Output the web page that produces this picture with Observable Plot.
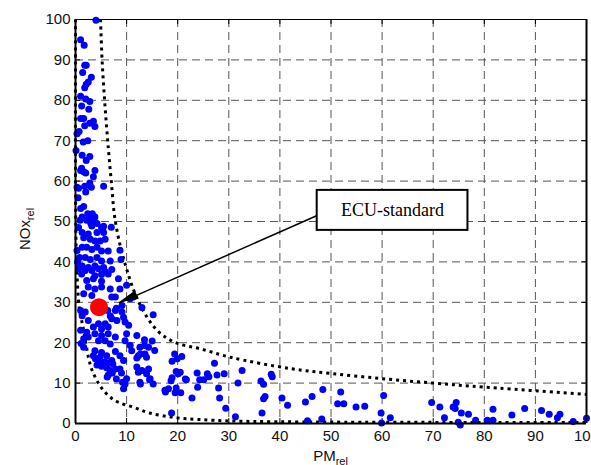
<!DOCTYPE html>
<html>
<head>
<meta charset="utf-8">
<script src="https://cdn.jsdelivr.net/npm/d3@7"></script>
<script src="https://cdn.jsdelivr.net/npm/@observablehq/plot@0.6"></script>
<style>
  html, body { margin: 0; padding: 0; background: #fff; overflow: hidden; }
</style>
</head>
<body>
<div id="chart"></div>
<script>
// Relative particulate (PM) and NOx of each engine calibration sample
const pm = [
  4.0, 1.0, 1.7, 1.8, 2.1, 1.4, 3.1, 2.5, 2.1, 1.8, 1.0, 2.0, 2.8, 1.2, 2.6, 1.0, 1.6, 3.5, 2.8, 1.8,
  3.8, 0.7, 0.3, 1.5, 2.4, 0.1, 1.3, 2.8, 2.1, 1.2, 1.0, 1.6, 2.0, 3.8, 3.5, 2.8, 1.8, 0.3, 0.6, 3.1,
  2.0, 5.5, 0.5, 1.6, 1.0, 2.4, 3.3, 2.8, 3.8, 3.6, 2.2, 1.3, 4.2, 3.0, 0.9, 5.5, 7.0, 5.3,
  3.2, 5.1, 5.5, 4.2, 2.5, 1.3, 0.6, 1.6, 2.9, 3.8, 4.8, 5.8, 0.3, 1.3, 2.2, 3.2, 4.2, 5.1, 6.4, 8.7,
  0.8, 1.9, 2.9, 4.2, 5.1, 6.8, 8.9, 0.4, 1.3, 2.5, 3.8, 5.5, 7.1,
  0.6, 1.9, 3.2, 4.5, 5.8, 6.4, 1.2, 3.8, 5.1, 2.2, 3.5, 5.1, 8.4, 2.5, 3.8, 5.1, 6.8, 8.7, 10.0, 1.6,
  3.2, 7.1, 7.8, 10.7, 11.3, 9.1, 1.0, 1.3, 1.9, 2.5, 9.1, 9.4, 9.7, 7.1, 4.5, 5.8, 3.5, 5.1, 6.4, 10.4,
  2.2, 3.8, 5.1, 6.4, 7.8, 10.0, 12.0, 1.0, 1.6, 2.5, 4.5, 5.8, 6.8, 9.7, 10.7, 1.1, 1.6, 3.8, 5.1, 7.8,
  11.0, 12.6, 14.3, 3.5, 4.8, 6.1, 7.1, 8.7, 9.4, 12.3, 13.6, 4.8, 5.8, 3.9, 6.3, 6.8, 8.0, 7.8, 8.1,
  6.4, 5.5, 7.3, 5.1, 6.1, 6.8, 6.4, 7.8, 8.7, 9.4, 9.7, 10.0, 9.2, 12.0, 12.0, 12.3, 14.3, 13.9, 14.6, 15.2,
  12.6, 17.5, 18.2, 6.2, 7.2, 8.0, 9.0, 4.2,
  13.0, 15.2, 13.5, 15.0, 13.5, 15.5, 12.7, 13.9, 13.0, 14.5, 12.7, 19.4, 19.9, 18.9, 20.8, 19.7, 20.5, 20.1, 18.9, 18.7,
  17.6, 19.7, 19.5, 20.6, 21.5, 21.7, 22.8, 23.8, 24.3, 23.9, 25.1, 25.8, 26.1, 27.2, 27.7, 29.1, 28.0, 28.2, 29.4, 18.8,
  31.3, 32.6, 31.8, 36.3, 36.8, 37.1, 36.8, 36.5, 38.3, 38.5, 40.4, 41.5,
  45.0, 46.3, 48.4, 45.4, 48.2, 51.3, 52.5, 51.9, 54.9, 56.6, 60.3, 59.8, 61.6, 59.9,
  69.7, 71.3, 72.2, 73.9, 74.3, 74.5, 74.9, 75.3, 75.5, 76.9, 78.3, 80.6, 81.7, 81.7, 85.4, 87.9, 91.2, 92.7, 94.3, 94.8,
  97.4, 100.0
];
const nox = [
  99.8, 95.0, 93.6, 88.7, 88.7, 86.9, 85.7, 84.5, 84.0, 83.1, 81.0, 80.3, 79.7, 78.6, 77.8, 75.5, 75.5, 74.8, 74.3, 73.7,
  73.5, 72.3, 71.7, 69.7, 70.0, 67.6, 66.4, 66.1, 65.1, 63.2, 62.6, 62.3, 62.0, 62.6, 61.1, 59.5, 58.7, 58.5, 58.2, 58.5,
  57.3, 58.7, 55.9, 53.7, 53.2, 51.9, 51.9, 51.1, 51.1, 50.3, 50.3, 51.1, 49.5, 49.5, 50.3, 48.8, 48.6, 48.0,
  48.9, 48.5, 47.3, 47.3, 46.9, 47.3, 48.5, 46.0, 45.6, 45.2, 45.2, 45.6, 42.8, 43.6, 43.6, 43.1, 43.6, 42.7, 42.7, 42.9,
  41.1, 41.1, 40.6, 41.1, 40.2, 40.2, 40.6, 40.0, 39.0, 38.6, 39.0, 38.6, 38.1,
  38.3, 37.9, 37.9, 38.3, 37.6, 37.0, 37.0, 36.6, 36.9, 35.4, 35.8, 35.2, 35.8, 33.8, 33.3, 33.8, 33.3, 33.3, 34.2, 32.1,
  31.7, 31.3, 31.3, 30.9, 31.3, 29.2, 28.0, 26.7, 27.6, 25.5, 27.6, 26.3, 25.1, 25.9, 24.7, 24.7, 23.9, 23.4, 23.9, 24.3,
  22.6, 22.2, 21.8, 22.2, 21.4, 22.2, 21.8, 23.1, 21.0, 21.4, 20.5, 20.5, 19.7, 20.5, 19.3, 19.8, 18.9, 18.0, 17.6, 17.8,
  18.0, 18.9, 18.9, 16.8, 16.4, 16.8, 15.6, 16.8, 15.6, 16.8, 17.2, 15.2, 15.2, 16.0, 28.0, 26.6, 28.5, 28.0, 25.5,
  15.0, 14.6, 14.8, 14.2, 13.8, 13.1, 12.0, 13.5, 13.5, 8.6, 9.8, 11.1, 10.2, 16.2, 14.0, 12.7, 13.5, 12.3, 11.1, 9.8,
  10.2, 8.2, 8.6, 11.5, 12.5, 11.0, 12.5, 14.5,
  28.7, 26.9, 20.7, 20.4, 19.3, 18.1, 17.2, 16.4, 13.1, 10.8, 9.8, 17.2, 16.0, 15.4, 16.6, 12.9, 12.7, 12.3, 11.3, 10.6,
  7.8, 8.8, 7.6, 7.6, 11.0, 10.8, 6.3, 12.5, 10.8, 9.0, 10.8, 12.3, 11.6, 14.9, 12.0, 12.3, 8.8, 6.3, 3.8, 2.6,
  1.7, 13.1, 10.0, 10.5, 9.7, 6.7, 6.1, 2.6, 12.2, 11.6, 6.3, 4.5,
  5.3, 6.7, 8.4, 0.7, 1.1, 4.9, 4.9, 7.8, 4.1, 4.3, 6.9, 2.6, 1.4, 0.1,
  5.2, 4.1, 1.4, 4.1, 3.7, 5.2, 0.3, -0.4, 2.6, 2.3, 0.8, 0.8, 0.8, 3.5, 2.1, 3.7, 3.2, 2.3, 1.4, 2.3,
  0.5, 1.3
];

// ECU standard calibration
const ecuPM = [4.6];
const ecuNOx = [28.8];

// Lower and upper boundary of the sample cloud
const innerPM  = [0.0, 0.0, 0.1, 0.2, 0.5, 0.8, 1.2, 1.6, 2.6, 3.3, 4.2, 5.3, 6.8, 8.5, 11.4, 14.5, 19.2, 24.0, 31.0, 50.0, 100.0];
const innerNOx = [100, 60, 45, 40, 32, 28, 25.5, 23, 16, 13, 10.6, 8.5, 6.5, 5.2, 4.0, 2.6, 1.5, 1.0, 0.6, 0.35, 0.25];
const outerPM  = [4.9, 5.2, 5.7, 6.3, 7.0, 7.8, 9.6, 12.4, 16.0, 19.6, 24.4, 30.3, 42.0, 50.0, 60.0, 70.0, 80.0, 100.0];
const outerNOx = [100, 90, 80, 70, 60, 50, 40, 30, 23, 20, 18.5, 16.4, 13.6, 12.4, 11.1, 10.0, 9.0, 7.2];

// Axis ticks
const xTicks = [0, 10, 20, 30, 40, 50, 60, 70, 80, 90, 100];
const yTicks = [0, 10, 20, 30, 40, 50, 60, 70, 80, 90, 100];
const gridTicks = [10, 20, 30, 40, 50, 60, 70, 80, 90];

// Annotation: label box and arrow
const noteText = ["ECU-standard"];
const noteBoxPM = [47.3, 76.8];
const noteBoxNOx = [47.8, 57.7];
const arrowFrom = [47.3, 51.5];
const arrowTo = [8.5, 29.8];

const width = 591, height = 465;
const mL = 75, mR = 5, mT = 19, mB = 42;
const frameW = width - mL - mR, frameH = height - mT - mB;
const tick = 5;

const boundary = {curve: "catmull-rom", stroke: "black", strokeWidth: 3, strokeDasharray: "3,4", strokeLinecap: "butt"};

const plot = Plot.plot({
  width, height,
  marginLeft: mL, marginRight: mR, marginTop: mT, marginBottom: mB,
  x: {domain: [0, 100]},
  y: {domain: [0, 100]},
  style: {
    fontFamily: "'Liberation Sans', Arial, sans-serif",
    fontSize: "15px",
    color: "#111",
    background: "#fff",
    overflow: "hidden"
  },
  marks: [
    Plot.gridX(gridTicks, {stroke: "#555", strokeOpacity: 1, strokeDasharray: "8,5"}),
    Plot.gridY(gridTicks, {stroke: "#555", strokeOpacity: 1, strokeDasharray: "8,5"}),
    // inward tick marks on all four sides
    Plot.tickX(xTicks, {x: d => d, insetTop: frameH - tick, stroke: "black"}),
    Plot.tickX(xTicks, {x: d => d, insetBottom: frameH - tick, stroke: "black"}),
    Plot.tickY(yTicks, {y: d => d, insetRight: frameW - tick, stroke: "black"}),
    Plot.tickY(yTicks, {y: d => d, insetLeft: frameW - tick, stroke: "black"}),
    Plot.axisX(xTicks, {tickSize: 0, tickPadding: 7, label: null, fontSize: 15}),
    Plot.axisY(yTicks, {tickSize: 0, tickPadding: 5, label: null, fontSize: 15}),
    // boundary curves
    Plot.line(innerPM, {x: innerPM, y: innerNOx, ...boundary}),
    Plot.line(outerPM, {x: outerPM, y: outerNOx, ...boundary}),
    // samples
    Plot.dot(pm, {x: pm, y: nox, r: 3.5, fill: "#0000ff", stroke: null}),
    Plot.dot(ecuPM, {x: ecuPM, y: ecuNOx, r: 9, fill: "#ff0000", stroke: null}),
    // frame
    Plot.ruleY([100], {stroke: "black", strokeWidth: 1.2}),
    Plot.ruleX([0, 100], {stroke: "black", strokeWidth: 2}),
    Plot.ruleY([0], {stroke: "black", strokeWidth: 2}),
    // annotation
    Plot.link([0], {x1: () => arrowFrom[0], y1: () => arrowFrom[1], x2: () => arrowTo[0], y2: () => arrowTo[1], stroke: "black", strokeWidth: 1.5}),
    Plot.rect([0], {x1: () => noteBoxPM[0], x2: () => noteBoxPM[1], y1: () => noteBoxNOx[0], y2: () => noteBoxNOx[1], fill: "white", stroke: "black", strokeWidth: 2}),
    Plot.text(noteText, {
      x: () => (noteBoxPM[0] + noteBoxPM[1]) / 2,
      y: () => (noteBoxNOx[0] + noteBoxNOx[1]) / 2,
      text: d => d,
      fontFamily: "'Liberation Serif', 'Times New Roman', serif",
      fontSize: 18,
      fill: "black"
    })
  ]
});

document.getElementById("chart").appendChild(plot);

// filled arrowhead at the arrow's tip, placed through the plot's scales
const sx = plot.scale("x"), sy = plot.scale("y");
const tx = sx.apply(arrowTo[0]), ty = sy.apply(arrowTo[1]);
const fx = sx.apply(arrowFrom[0]), fy = sy.apply(arrowFrom[1]);
const len = Math.hypot(fx - tx, fy - ty);
const ux = (fx - tx) / len, uy = (fy - ty) / len;
const headL = 20, headW = 4.5;
const bx = tx + ux * headL, by = ty + uy * headL;
const svg = d3.select(plot);
svg.append("polygon")
  .attr("points", [[tx, ty], [bx - uy * headW, by + ux * headW], [bx + uy * headW, by - ux * headW]].map(p => p.join(",")).join(" "))
  .attr("fill", "black");

// axis titles with subscripts
const xt = svg.append("text")
  .attr("x", mL + frameW / 2)
  .attr("y", 461)
  .attr("text-anchor", "middle")
  .attr("fill", "#111")
  .style("font-family", "'Liberation Sans', Arial, sans-serif")
  .style("font-size", "15px");
xt.append("tspan").text("PM");
xt.append("tspan").attr("dy", 4).style("font-size", "11px").text("rel");

const yt = svg.append("text")
  .attr("transform", `translate(30,${mT + frameH / 2 + 8}) rotate(-90)`)
  .attr("text-anchor", "middle")
  .attr("fill", "#111")
  .style("font-family", "'Liberation Sans', Arial, sans-serif")
  .style("font-size", "15px");
yt.append("tspan").text("NOx");
yt.append("tspan").attr("dy", 4).style("font-size", "11px").text("rel");
</script>
</body>
</html>
